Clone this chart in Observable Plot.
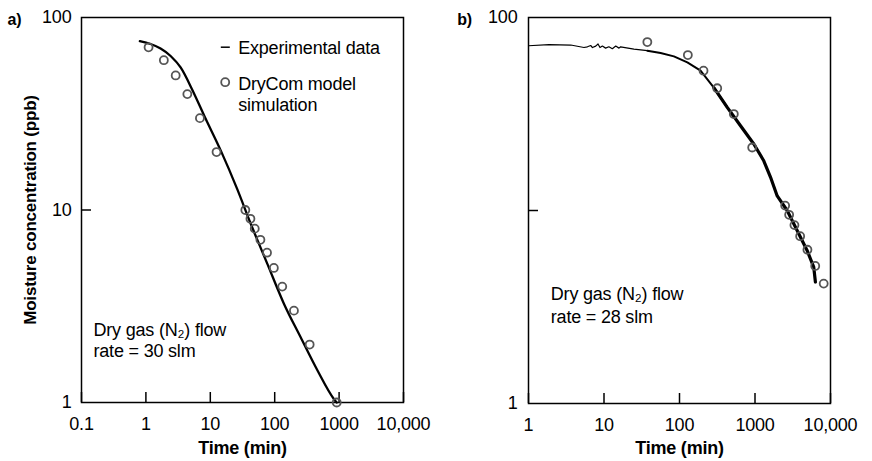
<!DOCTYPE html>
<html><head><meta charset="utf-8">
<script src="https://cdn.jsdelivr.net/npm/d3@7"></script>
<script src="https://cdn.jsdelivr.net/npm/@observablehq/plot@0.6"></script>
<style>
body{margin:0;background:#fff;}
#wrap{display:flex;width:872px;height:461px;background:#fff;}
svg text{letter-spacing:-0.2px;}
</style></head><body><div id="wrap"></div>
<script>
// ---- Panel a data ----
const expA_t = [0.805, 1.18, 1.69, 2.42, 3.46, 5.31, 8.15, 14.5, 26.3, 42.3, 76.9, 139, 253, 460, 834, 918];
const expA_c = [75.3, 72.8, 69, 63.1, 55, 41.8, 30.6, 20.4, 12.8, 8.51, 5.25, 3.26, 2.18, 1.47, 1.04, 1.0];
const simA_t = [1.1, 1.9, 2.9, 4.4, 6.9, 12.5, 35, 42, 49, 60, 76, 97, 131, 199, 349, 918];
const simA_c = [70, 60, 50, 40, 30, 20, 10, 9, 8, 7, 6, 5, 4, 3, 2, 1];
// ---- Panel b data ----
const expB_t = [1, 1.87, 3.63, 5.43, 6.03, 6.67, 7.03, 7.77, 8.33, 8.85, 9.52, 10.5, 11.6, 12.9, 14.3, 15.8, 16.6, 24.9, 37.5, 56.2, 84.3, 127, 190, 285, 429, 643, 964, 1306, 1603, 1968, 2667, 3614, 4898, 5998, 6310];
const expB_c = [71.4, 72.3, 72.0, 69.9, 70.5, 71.6, 69.9, 71.1, 72.9, 69.9, 71.1, 69.4, 70.5, 68.9, 71.1, 69.4, 70.5, 68.6, 67.3, 65.4, 62.9, 58.5, 53, 43.3, 34.2, 27.5, 22.1, 18.1, 14.9, 11.9, 10, 7.88, 6.21, 5.09, 4.26];
const simB_t = [37.5, 129, 208, 316, 524, 918, 2508, 2833, 3329, 3963, 4948, 6277, 8128];
const simB_c = [74.6, 63.9, 53, 43, 31.6, 21.2, 10.6, 9.5, 8.4, 7.36, 6.26, 5.16, 4.18];
// ---- Ticks and labels ----
const xTicksA = [0.1, 1, 10, 100, 1000, 10000];
const xLabelsA = ["0.1", "1", "10", "100", "1000", "10,000"];
const xTicksB = [1, 10, 100, 1000, 10000];
const xLabelsB = ["1", "10", "100", "1000", "10,000"];
const yLabelTicksA = [1, 10, 100];
const yLabelsA = ["1", "10", "100"];
const yLabelTicksB = [1, 100];
const yLabelsB = ["1", "100"];
const yTickMarks = [10];
const panelLabels = ["a)", "b)"];
const xTitle = "Time (min)";
const yTitle = "Moisture concentration (ppb)";
const legendLabels = ["Experimental data", "DryCom model\nsimulation"];
const annotA = "Dry gas (N\u2082) flow\nrate = 30 slm";
const annotB = "Dry gas (N\u2082) flow\nrate = 28 slm";

const FONT = '"Liberation Sans", Arial, Helvetica, sans-serif';
const zip = (t, c) => t.map((v, i) => ({t: v, c: c[i]}));
const expA = zip(expA_t, expA_c), simA = zip(simA_t, simA_c);
const expB = zip(expB_t, expB_c), simB = zip(simB_t, simB_c);
const dash = {draw(ctx, size) { const r = Math.sqrt(size / Math.PI); ctx.moveTo(-r, 0); ctx.lineTo(r, 0); }};

function axes(xT, xL, yT, yL, yPad) {
  const xm = new Map(xT.map((d, i) => [d, xL[i]]));
  const ym = new Map(yT.map((d, i) => [d, yL[i]]));
  return [
    Plot.axisX(xT, {anchor: "bottom", tickSize: 0, tickPadding: 15, tickFormat: d => xm.get(d), label: null}),
    Plot.axisX(xT, {anchor: "bottom", tickSize: -10, strokeWidth: 1.5, tickFormat: () => "", label: null}),
    Plot.axisY(yT, {anchor: "left", tickSize: 0, tickPadding: yPad, tickFormat: d => ym.get(d), label: null}),
    Plot.axisY(yTickMarks, {anchor: "left", tickSize: -10, strokeWidth: 1.5, tickFormat: () => "", label: null})
  ];
}

const common = {
  width: 436, height: 461,
  x: {type: "log", domain: [0.1, 10000], axis: null},
  y: {type: "log", domain: [1, 100], axis: null},
  style: {fontFamily: FONT, fontSize: "18px", color: "black", background: "white", overflow: "visible"}
};

const plotA = Plot.plot({
  ...common,
  marginLeft: 81, marginRight: 33, marginTop: 17, marginBottom: 59,
  marks: [
    Plot.frame({strokeWidth: 1.5}),
    ...axes(xTicksA, xLabelsA, yLabelTicksA, yLabelsA, 10),
    Plot.line(expA, {x: "t", y: "c", curve: "monotone-x", stroke: "black", strokeWidth: 2.3}),
    Plot.dot(simA, {x: "t", y: "c", r: 4, stroke: "#555", strokeWidth: 1.8, fill: "none"}),
    Plot.dot([legendLabels[0]], {frameAnchor: "top-left", dx: 143.8, dy: 29.7, r: 4.5, symbol: dash, stroke: "black", strokeWidth: 1.5}),
    Plot.text([legendLabels[0]], {frameAnchor: "top-left", dx: 156.7, dy: 24, textAnchor: "start", lineAnchor: "top", text: d => d}),
    Plot.dot([legendLabels[1]], {frameAnchor: "top-left", dx: 143.7, dy: 64.7, r: 4, stroke: "#555", strokeWidth: 1.8, fill: "none"}),
    Plot.text([legendLabels[1]], {frameAnchor: "top-left", dx: 156.7, dy: 57, textAnchor: "start", lineAnchor: "top", lineHeight: 1.2, text: d => d}),
    Plot.text([annotA], {frameAnchor: "top-left", dx: 12, dy: 303.7, textAnchor: "start", lineAnchor: "top", lineHeight: 1.17, text: d => d}),
    Plot.text([panelLabels[0]], {frameAnchor: "top-left", dx: -74, dy: -4, textAnchor: "start", lineAnchor: "top", fontWeight: "bold", fontSize: 16, text: d => d}),
    Plot.text([xTitle], {frameAnchor: "bottom", dy: 38.7, lineAnchor: "top", fontWeight: "bold", text: d => d}),
    Plot.text([yTitle], {frameAnchor: "left", dx: -51, rotate: -90, textAnchor: "middle", lineAnchor: "middle", fontWeight: "bold", fontSize: 17, text: d => d})
  ]
});

const plotB = Plot.plot({
  ...common,
  x: {type: "log", domain: [1, 10000], axis: null},
  marginLeft: 92, marginRight: 42, marginTop: 17, marginBottom: 58,
  marks: [
    Plot.frame({strokeWidth: 1.5}),
    ...axes(xTicksB, xLabelsB, yLabelTicksB, yLabelsB, 11),
    Plot.line(expB, {x: "t", y: "c", filter: d => d.t <= 40, stroke: "black", strokeWidth: 1.2}),
    Plot.line(expB, {x: "t", y: "c", filter: d => d.t >= 37 && d.t <= 430, stroke: "black", strokeWidth: 2}),
    Plot.line(expB, {x: "t", y: "c", filter: d => d.t >= 285, stroke: "black", strokeWidth: 3.2}),
    Plot.dot(simB, {x: "t", y: "c", r: 4, stroke: "#555", strokeWidth: 1.8, fill: "none"}),
    Plot.text([annotB], {frameAnchor: "top-left", dx: 22.3, dy: 266.6, textAnchor: "start", lineAnchor: "top", lineHeight: 1.27, text: d => d}),
    Plot.text([panelLabels[1]], {frameAnchor: "top-left", dx: -71.3, dy: -4, textAnchor: "start", lineAnchor: "top", fontWeight: "bold", fontSize: 16, text: d => d}),
    Plot.text([xTitle], {frameAnchor: "bottom", dy: 37.7, lineAnchor: "top", fontWeight: "bold", text: d => d})
  ]
});

document.getElementById("wrap").append(plotA, plotB);
</script></body></html>
